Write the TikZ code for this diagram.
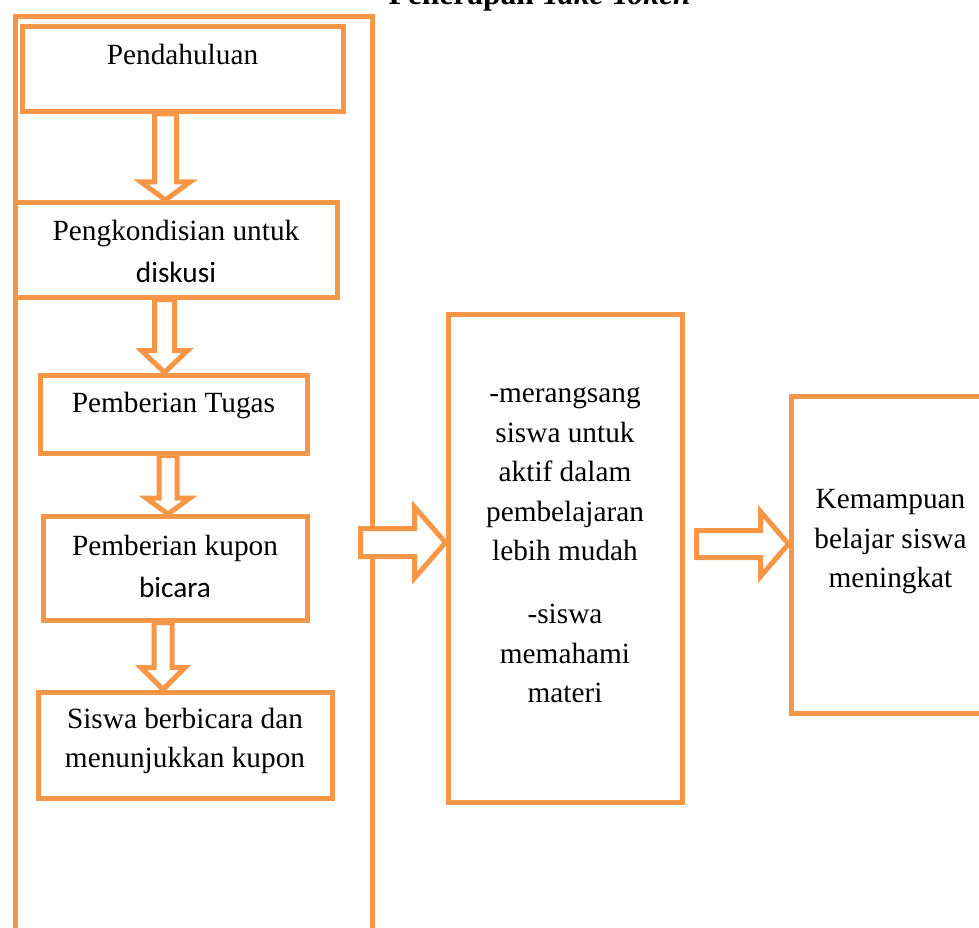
\documentclass[tikz,border=0pt]{standalone}
\usepackage{fontspec}
\setmainfont{Liberation Serif}
\newfontfamily\calibri{Carlito}
\usetikzlibrary{calc}
\definecolor{wordorange}{HTML}{F79646}
\newcommand{\wordfont}{\fontsize{29.3}{39.5}\selectfont}
\tikzset{
    wbox/.style={draw=wordorange, line width=5pt, fill=white, inner sep=0pt,
        align=center, anchor=north west, font=\wordfont},
    blockarrow/.style={draw=wordorange, line width=5pt, fill=white},
}
% block arrow downwards: from, to, x, shaft half width, head half width, head length
\newcommand{\flowdown}[6]{%
    \path (#1.south -| #3,0) coordinate (tail) (#2.north -| #3,0) coordinate (tip);
    \draw[blockarrow] ($(tail)+(-#4,0)$) -- ($(tip)+(-#4,-#6)$) -- ($(tip)+(-#5,-#6)$)
        -- (tip) -- ($(tip)+(#5,-#6)$) -- ($(tip)+(#4,-#6)$) -- ($(tail)+(#4,0)$) -- cycle;
}
% block arrow to the right: tail, to, shaft half height, head half height, head length
\newcommand{\flowright}[5]{%
    \path (#2.west |- #1) coordinate (tip);
    \draw[blockarrow] ($(#1)+(0,-#3)$) -- ($(tip)+(-#5,-#3)$) -- ($(tip)+(-#5,-#4)$)
        -- (tip) -- ($(tip)+(-#5,#4)$) -- ($(tip)+(-#5,#3)$) -- ($(#1)+(0,#3)$) -- cycle;
}

\begin{document}
\begin{tikzpicture}[x=1pt, y=-1pt]
    \useasboundingbox (0,0) rectangle (979,928);
    \clip (0,0) rectangle (979,928);
    % title (cut off at the top)
    \node[anchor=base west, font=\fontsize{31.5}{38}\selectfont\bfseries] (title) at (385,5) {Penerapan \textit{Take Token}};
    % left frame
    \node[wbox, minimum width=357, minimum height=1052, fill=none] (frame) at (12.5,14) {};
    % steps
    \node[wbox, minimum width=321, text height=38, text depth=47] (pend) at (19.5,24) {Pendahuluan};
    \node[wbox, minimum width=322, text height=80, text depth=14.5] (kond) at (12.5,200)
        {Pengkondisian untuk\\[2.5pt]{\calibri diskusi}};
    \node[wbox, minimum width=267, text height=37.5, text depth=40.5] (tugas) at (37.5,372.5) {Pemberian Tugas};
    \node[wbox, minimum width=264, text height=81, text depth=22.5] (kupon) at (40.5,514)
        {Pemberian kupon\\[2.5pt]{\calibri bicara}};
    \node[wbox, minimum width=294, text height=75.5, text depth=30.5] (bicara) at (35.5,689.5)
        {Siswa berbicara dan\\menunjukkan kupon};
    % results
    \node[wbox, minimum width=234, text height=388.5, text depth=99.5] (mid) at (445.5,311.5)
        {-merangsang\\siswa untuk\\aktif dalam\\pembelajaran\\lebih mudah\\[23.5pt]-siswa\\memahami\\materi};
    \node[wbox, minimum width=199, text height=191.5, text depth=125.5] (hasil) at (788.5,393.5)
        {Kemampuan\\belajar siswa\\meningkat};
    % arrows
    \flowdown{pend}{kond}{165.5}{11}{24.5}{18}
    \flowdown{kond}{tugas}{164.5}{10}{23}{22}
    \flowdown{tugas}{kupon}{168}{9}{22}{16}
    \flowdown{kupon}{bicara}{163}{9}{22}{22}
    \coordinate (tail1) at ($(frame.east)+(-14,0)$);
    \coordinate (tail2) at (696.5,544);
    \flowright{tail1}{mid}{14}{35.5}{31}
    \flowright{tail2}{hasil}{13.5}{32.5}{28}
\end{tikzpicture}
\end{document}
